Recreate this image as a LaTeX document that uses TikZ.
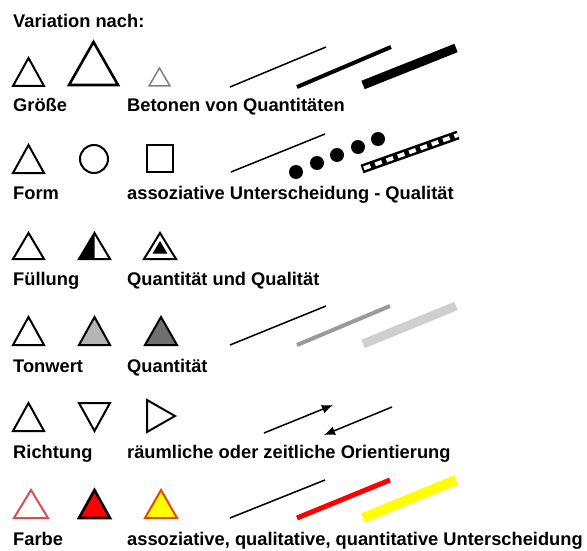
\documentclass[tikz,border=0pt]{standalone}
\usepackage{fontspec}
\setmainfont{Liberation Sans}
\usetikzlibrary{arrows.meta}
\definecolor{lgray}{HTML}{B4B4B4}
\definecolor{dgray}{HTML}{707070}
\definecolor{mline}{HTML}{9A9A9A}
\definecolor{lline}{HTML}{CFCFCF}
\definecolor{redout}{HTML}{D65050}
\definecolor{orangeout}{HTML}{E04A00}
\definecolor{myred}{HTML}{FF0000}
\definecolor{myyellow}{HTML}{FFFF00}
\begin{document}
\begin{tikzpicture}[x=1pt,y=-1pt,
  lbl/.style={anchor=base west, inner sep=0pt, font=\fontsize{18.3}{22}\selectfont\bfseries},
  tri/.style={line width=2pt, line join=miter},
  thinl/.style={line width=1.5pt},
  medl/.style={line width=4pt},
  thickl/.style={line width=9pt},
  arr/.style={line width=1.5pt, -{Latex[length=11pt,width=9pt]}}]
\useasboundingbox (0,0) rectangle (587,551);
\fill[white] (0,0) rectangle (587,551);

\node[lbl] (title) at (13,28) {Variation nach:};

% Row 1: Groesse
\draw[tri] (13,86) -- (28.5,58) -- (44,86) -- cycle;
\draw[tri, line width=2.6pt] (69,85) -- (93.5,42) -- (118,85) -- cycle;
\draw[tri, line width=1.5pt, draw=gray] (149,86) -- (159.5,68) -- (170,86) -- cycle;
\draw[thinl] (230,87) -- (326,47);
\draw[medl] (297,87) -- (391,47);
\draw[thickl] (363,85) -- (456,48);
\node[lbl] (l1) at (13,112) {Größe};
\node[lbl] (r1) at (127,112) {Betonen von Quantitäten};

% Row 2: Form
\draw[tri] (13,173) -- (28.5,145) -- (44,173) -- cycle;
\draw[tri] (94,159) circle (14);
\draw[tri] (147,145) rectangle (173,172);
\draw[thinl] (231,172) -- (325,134);
\foreach \p in {(296,172),(317,163),(337,155),(358,147),(378,139)}
  \fill \p circle (7);
\draw[line width=9pt] (362,169) -- (458,135);
\draw[line width=4pt, white, dash pattern=on 7pt off 5pt, dash phase=-2pt] (362,169) -- (458,135);
\node[lbl] (l2) at (13,199) {Form};
\node[lbl] (r2) at (127,199) {assoziative Unterscheidung - Qualität};

% Row 3: Fuellung
\draw[tri] (13,259) -- (28.5,233) -- (44,259) -- cycle;
\fill (79,259) -- (94.5,233) -- (94.5,259) -- cycle;
\draw[tri] (79,259) -- (94.5,233) -- (110,259) -- cycle;
\draw[tri] (144,259) -- (160,233) -- (176,259) -- cycle;
\filldraw[line width=1pt, line join=miter] (153.5,253) -- (160,242) -- (166.5,253) -- cycle;
\node[lbl] (l3) at (13,285) {Füllung};
\node[lbl] (r3) at (127,285) {Quantität und Qualität};

% Row 4: Tonwert
\draw[tri] (13,345) -- (28.5,317) -- (44,345) -- cycle;
\draw[tri, fill=lgray] (79,345) -- (94.5,317) -- (110,345) -- cycle;
\draw[tri, fill=dgray] (145,345) -- (161,317) -- (177,345) -- cycle;
\draw[thinl] (230,345) -- (326,306);
\draw[medl, mline] (297,345) -- (390,306);
\draw[thickl, lline] (363,344) -- (456,306);
\node[lbl] (l4) at (13,372) {Tonwert};
\node[lbl] (r4) at (127,372) {Quantität};

% Row 5: Richtung
\draw[tri] (13,431) -- (28.5,403) -- (44,431) -- cycle;
\draw[tri] (79,403) -- (110,403) -- (94.5,431) -- cycle;
\draw[tri] (147,400) -- (175,416) -- (147,432) -- cycle;
\coordinate (a1s) at (264,433);
\coordinate (a1e) at (333,405);
\coordinate (a2s) at (392,407);
\coordinate (a2e) at (324,435);
\draw[arr] (a1s) -- (a1e);
\draw[arr] (a2s) -- (a2e);
\node[lbl] (l5) at (13,458) {Richtung};
\node[lbl] (r5) at (127,458) {räumliche oder zeitliche Orientierung};

% Row 6: Farbe
\draw[tri, redout] (14,518) -- (31,490) -- (48,518) -- cycle;
\draw[tri, line width=2.6pt, fill=myred] (79,518) -- (94.5,490) -- (110,518) -- cycle;
\draw[tri, draw=orangeout, fill=myyellow] (145,518) -- (161,490) -- (177,518) -- cycle;
\draw[thinl] (230,518) -- (325,480);
\draw[line width=5pt, myred] (297,518) -- (390,480);
\draw[line width=10pt, myyellow] (363,518) -- (456,480);
\node[lbl] (l6) at (13,545) {Farbe};
\node[lbl] (r6) at (127,545) {assoziative, qualitative, quantitative Unterscheidung};
\end{tikzpicture}
\end{document}
